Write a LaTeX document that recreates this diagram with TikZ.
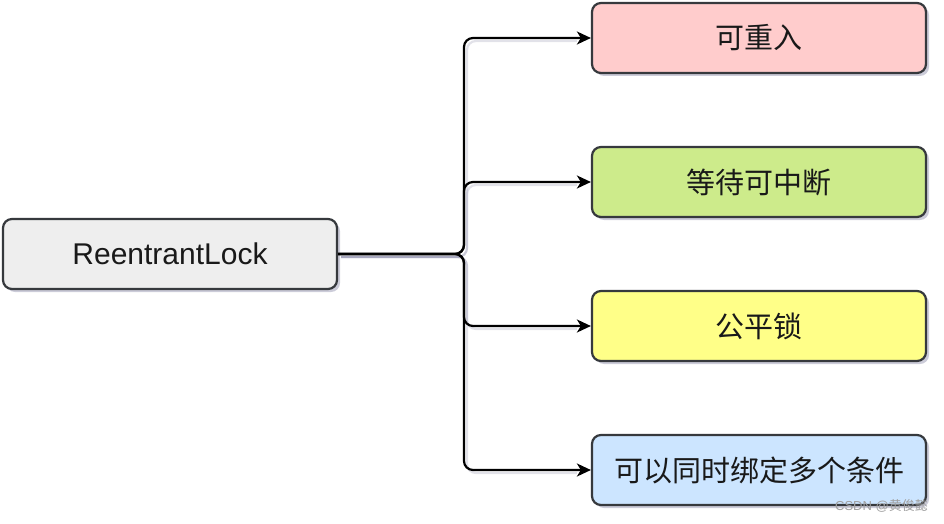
\documentclass[tikz,border=0pt]{standalone}
\usepackage{fontspec}
\setmainfont{Liberation Sans}
\newfontfamily\cjk{Noto Sans CJK SC}
\usetikzlibrary{arrows.meta,shadows,calc}
\definecolor{boxline}{HTML}{36393D}
\definecolor{cgray}{HTML}{EEEEEE}
\definecolor{cpink}{HTML}{FFCCCC}
\definecolor{cgreen}{HTML}{CDEB8B}
\definecolor{cyellow}{HTML}{FFFF88}
\definecolor{cblue}{HTML}{CCE5FF}
\begin{document}
\begin{tikzpicture}[x=1pt,y=-1pt,
  box/.style={draw=boxline, line width=2.2pt, rounded corners=9pt,
    minimum width=334pt, minimum height=70pt, inner sep=0pt,
    text=black!90,
    drop shadow={shadow xshift=3pt, shadow yshift=-3pt, opacity=0.35, fill=gray!85!blue}},
  cjkbox/.style={box, font=\cjk\fontsize{29}{29}\selectfont},
  conn/.style={draw=black, line width=2.2pt, rounded corners=9pt,
    -{Stealth[length=14pt,width=13pt,inset=4pt]}},
  connshadow/.style={draw=gray!85!blue, opacity=0.2, line width=2.2pt, rounded corners=9pt},
]
\useasboundingbox (0,0) rectangle (944,524);
\node[box, fill=cgray, font=\fontsize{30}{30}\selectfont] (L) at (170,254) {ReentrantLock};
\node[cjkbox, fill=cpink] (A) at (759,38) {可重入};
\node[cjkbox, fill=cgreen] (B) at (759,182) {等待可中断};
\node[cjkbox, fill=cyellow] (C) at (759,326) {公平锁};
\node[cjkbox, fill=cblue] (D) at (759,470) {可以同时绑定多个条件};
\coordinate (T) at (464,254);
\coordinate (Ts) at (467,257);
\foreach \n in {A,B,C,D}{
  \draw[connshadow] ($(L.east)+(3,3)$) -- (Ts) |- ($(\n.west)+(-14,3)$);
}
\foreach \n in {A,B,C,D}{
  \draw[conn] (L.east) -- (T) |- (\n.west);
}
\node[anchor=south east, text=gray!75, inner sep=0pt,
  font=\fontsize{13}{13}\selectfont] (W) at (928,512) {CSDN @{\cjk 黄俊懿}};
\end{tikzpicture}
\end{document}
